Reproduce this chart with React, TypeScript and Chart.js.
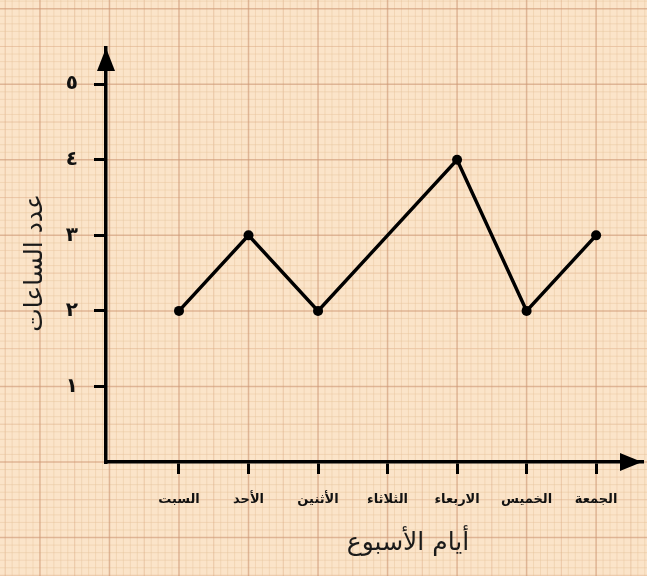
import React, { useEffect, useRef } from "react";
import { Chart, registerables } from "chart.js";

Chart.register(...registerables);

const days = ["السبت", "الأحد", "الأثنين", "الثلاثاء", "الاربعاء", "الخميس", "الجمعة"];
const hours = [2, 3, 2, 3, 4, 2, 3];
const pointRadii = [5, 5, 5, 0, 5, 5, 5];
const yTickLabels = ["١", "٢", "٣", "٤", "٥"];
const xTitle = "أيام الأسبوع";
const yTitle = "عدد الساعات";

const paperPlugin = {
  id: "paper",
  beforeDraw(chart: any) {
    const { ctx, width, height, scales } = chart;
    const xs = scales.x;
    const ys = scales.y;
    ctx.save();
    ctx.fillStyle = "#fbe4c9";
    ctx.fillRect(0, 0, width, height);
    const drawV = (v: number, color: string, lw: number) => {
      const px = xs.getPixelForValue(v);
      if (px < -2 || px > width + 2) return;
      ctx.strokeStyle = color;
      ctx.lineWidth = lw;
      ctx.beginPath();
      ctx.moveTo(px, 0);
      ctx.lineTo(px, height);
      ctx.stroke();
    };
    const drawH = (v: number, color: string, lw: number) => {
      const py = ys.getPixelForValue(v);
      if (py < -2 || py > height + 2) return;
      ctx.strokeStyle = color;
      ctx.lineWidth = lw;
      ctx.beginPath();
      ctx.moveTo(0, py);
      ctx.lineTo(width, py);
      ctx.stroke();
    };
    for (let i = -20; i <= 100; i++) {
      if (i % 10 === 0) continue;
      const c = i % 5 === 0 ? "rgba(220,170,130,0.5)" : "rgba(230,195,155,0.45)";
      drawV(i / 10, c, 1);
      drawH(i / 10, c, 1);
    }
    for (let k = -2; k <= 10; k++) {
      drawV(k, "rgba(205,150,115,0.6)", 1.5);
      drawH(k, "rgba(205,150,115,0.6)", 1.5);
    }
    ctx.restore();
  },
  afterDraw(chart: any) {
    const { ctx, chartArea } = chart;
    const { left, right, top, bottom } = chartArea;
    ctx.save();
    ctx.fillStyle = "#000";
    ctx.beginPath();
    ctx.moveTo(left, top);
    ctx.lineTo(left - 9, top + 23);
    ctx.lineTo(left + 9, top + 23);
    ctx.closePath();
    ctx.fill();
    ctx.beginPath();
    ctx.moveTo(right, bottom);
    ctx.lineTo(right - 22, bottom - 9);
    ctx.lineTo(right - 22, bottom + 9);
    ctx.closePath();
    ctx.fill();
    ctx.fillStyle = "#1a1a1a";
    ctx.font = "25px 'DejaVu Sans'";
    ctx.textAlign = "center";
    ctx.textBaseline = "middle";
    ctx.fillText(xTitle, 408, 543);
    ctx.translate(35, 263);
    ctx.rotate(-Math.PI / 2);
    ctx.fillText(yTitle, 0, 0);
    ctx.restore();
  },
};

export default function App() {
  const canvasRef = useRef<HTMLCanvasElement | null>(null);

  useEffect(() => {
    const canvas = canvasRef.current;
    if (!canvas) return;
    const chart = new Chart(canvas, {
      type: "line",
      data: {
        datasets: [
          {
            data: days.map((_, i) => ({ x: i + 1, y: hours[i] })),
            borderColor: "#000",
            borderWidth: 3.5,
            pointRadius: pointRadii,
            pointHoverRadius: pointRadii,
            pointBackgroundColor: "#000",
            pointBorderColor: "#000",
            pointBorderWidth: 0,
            tension: 0,
            fill: false,
          },
        ],
      },
      options: {
        responsive: false,
        animation: false,
        devicePixelRatio: 1,
        layout: { padding: { left: 0, right: 2, top: 48, bottom: 0 } },
        plugins: { legend: { display: false }, tooltip: { enabled: false } },
        scales: {
          x: {
            type: "linear",
            min: -0.05,
            max: 7.66,
            afterFit: (s: any) => {
              s.height = 114;
            },
            afterBuildTicks: (s: any) => {
              s.ticks = days.map((_, i) => ({ value: i + 1 }));
            },
            ticks: {
              autoSkip: false,
              maxRotation: 0,
              padding: 18,
              color: "#111",
              font: { family: "'DejaVu Sans'", size: 13, weight: "bold" },
              callback: (v: any) => {
                const i = Math.round(Number(v)) - 1;
                return days[i] ?? "";
              },
            },
            grid: {
              drawOnChartArea: false,
              drawTicks: true,
              tickLength: 12,
              color: "#000",
              lineWidth: 3,
            },
            border: { display: true, color: "#000", width: 3.5 },
          },
          y: {
            type: "linear",
            min: 0,
            max: 5.48,
            afterFit: (s: any) => {
              s.width = 106;
            },
            afterBuildTicks: (s: any) => {
              s.ticks = yTickLabels.map((_, i) => ({ value: i + 1 }));
            },
            ticks: {
              autoSkip: false,
              padding: 16,
              color: "#111",
              font: { family: "'DejaVu Sans'", size: 20, weight: "bold" },
              callback: (v: any) => {
                const i = Math.round(Number(v)) - 1;
                return yTickLabels[i] ?? "";
              },
            },
            grid: {
              drawOnChartArea: false,
              drawTicks: true,
              tickLength: 12,
              color: "#000",
              lineWidth: 3,
            },
            border: { display: true, color: "#000", width: 3.5 },
          },
        },
      },
      plugins: [paperPlugin],
    } as any);
    return () => chart.destroy();
  }, []);

  return (
    <div style={{ position: "absolute", left: 0, top: 0, width: 647, height: 576 }}>
      <canvas ref={canvasRef} width={647} height={576} style={{ display: "block", width: 647, height: 576 }} />
    </div>
  );
}
